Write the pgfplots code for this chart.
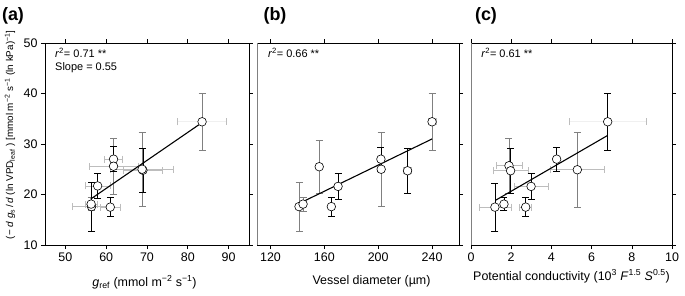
\documentclass[border=0pt]{standalone}
\usepackage{fontspec}
\setmainfont{Liberation Sans}
\usepackage{pgfplots}
\pgfplotsset{compat=1.18}
\usepackage{pgfplotstable}
\definecolor{ebgrey}{gray}{0.5}
\definecolor{exgrey}{gray}{0.74}
\definecolor{faint}{gray}{0.94}

% x y ex eyk(black) eyg(grey)
\pgfplotstableread{
x y ex eyk eyg
56.4 17.6 4.8 4.8 0
56.3 18.1 1.5 0 1.3
61.0 17.5 2.5 1.9 0
57.9 21.7 3.0 2.5 0
61.8 27.0 2.2 2.5 0
61.8 25.6 6.0 0 5.5
69.0 24.8 4.7 4.4 0
68.8 25.0 7.7 0 7.4
}\tA
\pgfplotstableread{
x y ex eyk eyg
83.5 34.4 6.0 0 5.6
}\tAf
\pgfplotstableread{
x y ex eyk eyg
141.2 17.6 0 0 4.8
144.2 18.1 2.0 0 1.4
156.2 25.5 0 0 5.3
165.2 17.6 0 1.9 0
170.2 21.6 0 2.5 0
202.0 27.0 0 2.4 0
202.2 25.0 0 0 7.4
221.8 24.7 3.0 4.4 0
240.0 34.4 3.0 0 5.6
}\tB
\pgfplotstableread{
x y ex eyk eyg
1.19 17.5 0.80 4.8 0
1.64 18.1 0.15 1.25 0
1.89 25.7 0.65 0 5.4
1.97 24.7 0.87 4.5 0
2.72 17.5 0.30 1.9 0
2.99 21.6 0.85 2.5 0
4.26 27.0 0 2.35 0
5.29 24.9 1.33 0 7.4
}\tC
\pgfplotstableread{
x y ex eyk eyg
6.80 34.4 1.90 5.6 0
}\tCf

\pgfplotsset{
  panel/.style={scale only axis, height=202bp, anchor=south west,
    ymin=10, ymax=50, ytick={10,20,30,40,50},
    tick align=outside, major tick length=4bp,
    tick style={black, line width=0.6pt},
    axis line style={line width=0.8pt},
    tick label style={font=\fontsize{12.5}{12.5}\selectfont},
    /pgf/number format/assume math mode=true,
    label style={font=\fontsize{12.5}{14}\selectfont},
    clip=false},
  xerr/.style={only marks, mark=none, forget plot,
    error bars/.cd, x dir=both, x explicit,
    error bar style={color=exgrey, line width=0.6pt},
    error mark options={rotate=90, mark size=3.5bp, color=exgrey, line width=0.6pt}},
  xerrf/.style={only marks, mark=none, forget plot,
    error bars/.cd, x dir=both, x explicit,
    error bar style={color=faint, line width=0.6pt},
    error mark options={rotate=90, mark size=3.5bp, color=exgrey, line width=0.6pt}},
  yerrk/.style={only marks, mark=none, forget plot,
    error bars/.cd, y dir=both, y explicit,
    error bar style={color=black, line width=0.6pt},
    error mark options={rotate=90, mark size=3.5bp, color=black, line width=0.6pt}},
  yerrg/.style={only marks, mark=none, forget plot,
    error bars/.cd, y dir=both, y explicit,
    error bar style={color=ebgrey, line width=0.6pt},
    error mark options={rotate=90, mark size=3.5bp, color=ebgrey, line width=0.6pt}},
  pts/.style={only marks, mark=*, mark size=4.3bp,
    mark options={fill=white, draw=black, line width=0.6pt}},
  reg/.style={black, line width=1.1pt, no marks},
}

\begin{document}
\begin{tikzpicture}
\useasboundingbox (0,0) rectangle (685bp,296bp);
% ---------- (a)
\begin{axis}[panel, at={(45bp,51bp)}, width=204bp,
  xmin=45, xmax=95, xtick={50,60,70,80,90},
  xlabel={\textit{g}\textsubscript{ref} (mmol m\textsuperscript{−2} s\textsuperscript{−1})},
  xlabel style={at={(axis description cs:0.488,0)}, anchor=base, yshift=-41bp},
  ylabel={(− \textit{d} \textit{g}\textsubscript{s}\,/\,\textit{d} (ln VPD\textsubscript{leaf} ) [mmol m\textsuperscript{−2} s\textsuperscript{−1} (ln kPa)\textsuperscript{−1}]},
  ylabel style={at={(axis description cs:-0.1716,0.545)}, anchor=center, font=\fontsize{9.9}{11}\selectfont},
]
\addplot[xerr] table[x=x, y=y, x error=ex] {\tA};
\addplot[xerrf] table[x=x, y=y, x error=ex] {\tAf};
\addplot[yerrg] table[x=x, y=y, y error=eyg] {\tA};
\addplot[yerrg] table[x=x, y=y, y error=eyg] {\tAf};
\addplot[yerrk] table[x=x, y=y, y error=eyk] {\tA};
\addplot[reg] coordinates {(56.2,19.1) (82.7,33.8)};
\addplot[pts] table[x=x, y=y] {\tA};
\addplot[pts] table[x=x, y=y] {\tAf};
\node[anchor=west, font=\fontsize{11}{12}\selectfont, inner sep=0pt] at (rel axis cs:0.049,0.953) {\textit{r}\textsuperscript{2}= 0.71 **};
\node[anchor=west, font=\fontsize{11}{12}\selectfont, inner sep=0pt] at (rel axis cs:0.049,0.879) {Slope = 0.55};
\end{axis}
% ---------- (b)
\begin{axis}[panel, at={(257bp,51bp)}, width=202bp,
  xmin=110, xmax=260, xtick={120,160,200,240},
  ytick pos=right, yticklabels={},
  xlabel={Vessel diameter (µm)},
  xlabel style={at={(axis description cs:0.567,0)}, anchor=base, yshift=-39bp},
]
\addplot[xerr] table[x=x, y=y, x error=ex] {\tB};
\addplot[yerrg] table[x=x, y=y, y error=eyg] {\tB};
\addplot[yerrk] table[x=x, y=y, y error=eyk] {\tB};
\addplot[reg] coordinates {(144.2,18.6) (240,31.0)};
\addplot[pts] table[x=x, y=y] {\tB};
\draw[ebgrey, line width=0.9pt] (rel axis cs:0,0) -- (rel axis cs:0,1);
\node[anchor=west, font=\fontsize{11}{12}\selectfont, inner sep=0pt] at (rel axis cs:0.054,0.953) {\textit{r}\textsuperscript{2}= 0.66 **};
\end{axis}
% ---------- (c)
\begin{axis}[panel, at={(471bp,51bp)}, width=201bp,
  xmin=0, xmax=10, xtick={0,2,4,6,8,10},
  ytick pos=right, yticklabels={},
  xlabel={Potential conductivity (10\textsuperscript{3} \textit{F}\textsuperscript{1.5} \textit{S}\textsuperscript{0.5})},
  xlabel style={at={(axis description cs:0.5,0)}, anchor=base, yshift=-35bp},
]
\addplot[xerr] table[x=x, y=y, x error=ex] {\tC};
\addplot[xerrf] table[x=x, y=y, x error=ex] {\tCf};
\addplot[yerrg] table[x=x, y=y, y error=eyg] {\tC};
\addplot[yerrk] table[x=x, y=y, y error=eyk] {\tC};
\addplot[yerrk] table[x=x, y=y, y error=eyk] {\tCf};
\addplot[reg] coordinates {(1.24,18.9) (6.8,31.7)};
\addplot[pts] table[x=x, y=y] {\tC};
\addplot[pts] table[x=x, y=y] {\tCf};
\draw[ebgrey, line width=0.9pt] (rel axis cs:0,0) -- (rel axis cs:0,1);
\node[anchor=west, font=\fontsize{11}{12}\selectfont, inner sep=0pt] at (rel axis cs:0.05,0.953) {\textit{r}\textsuperscript{2}= 0.61 **};
\end{axis}
% panel letters
\node[font=\fontsize{18}{18}\selectfont\bfseries] at (13bp,280bp) {(a)};
\node[font=\fontsize{18}{18}\selectfont\bfseries] at (275bp,280bp) {(b)};
\node[font=\fontsize{18}{18}\selectfont\bfseries] at (486bp,280bp) {(c)};
\end{tikzpicture}
\end{document}
